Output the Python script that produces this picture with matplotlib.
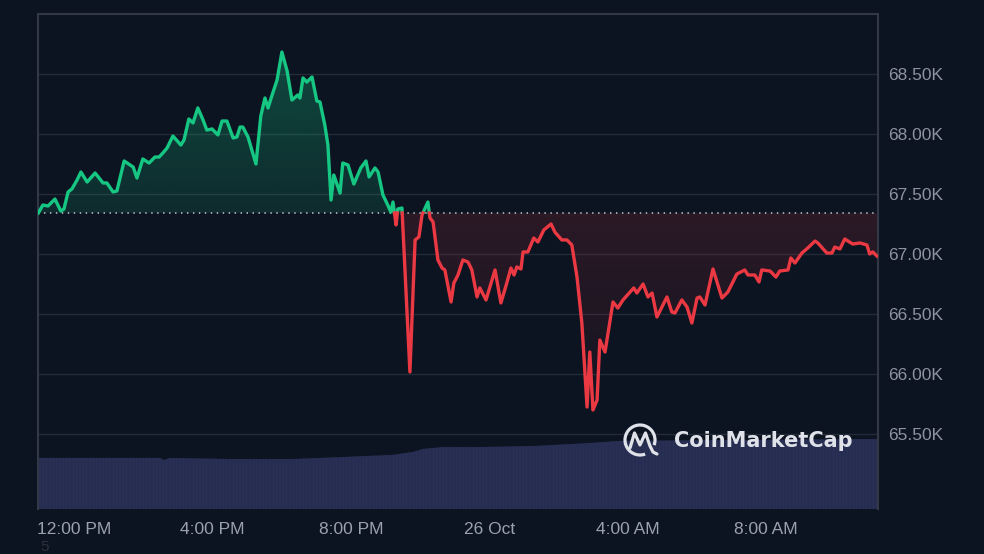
import numpy as np
import matplotlib.pyplot as plt
from matplotlib.patches import Arc
from matplotlib.path import Path
from matplotlib.colors import to_rgb

# hours after 12:00 PM (25 Oct) and price in USD
hours = [-1.03, -0.90, -0.75, -0.55, -0.38, -0.29, -0.17, -0.06, 0.09, 0.20,
         0.38, 0.61, 0.84, 0.95, 1.13, 1.24, 1.45, 1.62, 1.71, 1.82,
         1.99, 2.17, 2.34, 2.46, 2.57, 2.69, 2.86, 3.09, 3.18, 3.32,
         3.44, 3.58, 3.73, 3.84, 3.99, 4.16, 4.28, 4.42, 4.60, 4.71,
         4.80, 4.88, 5.03, 5.26, 5.40, 5.52, 5.61, 5.69, 5.87, 6.01,
         6.16, 6.30, 6.47, 6.53, 6.62, 6.73, 6.88, 7.02, 7.11, 7.25,
         7.34, 7.43, 7.51, 7.63, 7.69, 7.77, 7.92, 8.09, 8.29, 8.44,
         8.53, 8.70, 8.79, 8.93, 9.07, 9.16, 9.22, 9.31, 9.36, 9.48,
         9.71, 9.86, 9.97, 10.06, 10.23, 10.29, 10.38, 10.52, 10.64, 10.72,
         10.90, 10.98, 11.10, 11.24, 11.39, 11.50, 11.65, 11.73, 11.91, 12.17,
         12.34, 12.51, 12.63, 12.72, 12.80, 12.92, 12.98, 13.12, 13.29, 13.41,
         13.58, 13.79, 13.90, 14.10, 14.25, 14.39, 14.54, 14.68, 14.83, 14.91,
         15.00, 15.12, 15.20, 15.35, 15.58, 15.72, 15.87, 16.18, 16.27, 16.45,
         16.59, 16.71, 16.85, 17.14, 17.28, 17.37, 17.57, 17.72, 17.86, 18.01,
         18.09, 18.24, 18.47, 18.73, 18.90, 19.16, 19.39, 19.48, 19.68, 19.80,
         19.88, 20.12, 20.29, 20.40, 20.64, 20.72, 20.84, 21.04, 21.21, 21.42,
         21.50, 21.76, 21.91, 21.99, 22.14, 22.28, 22.51, 22.72, 22.92, 23.00,
         23.09, 23.21]
price = [67342, 67408, 67400, 67458, 67358, 67375, 67517, 67542, 67617, 67683,
         67600, 67675, 67592, 67592, 67517, 67525, 67775, 67742, 67725, 67633,
         67792, 67758, 67808, 67808, 67842, 67883, 67983, 67908, 67950, 68125,
         68092, 68217, 68117, 68033, 68042, 67992, 68108, 68108, 67967, 67975,
         68058, 68058, 67975, 67750, 68150, 68300, 68217, 68292, 68450, 68683,
         68525, 68283, 68325, 68300, 68467, 68433, 68475, 68275, 68267, 68075,
         67908, 67450, 67658, 67558, 67508, 67758, 67742, 67583, 67717, 67775,
         67642, 67717, 67683, 67492, 67408, 67350, 67433, 67242, 67375, 67383,
         66017, 67117, 67142, 67325, 67433, 67300, 67267, 66950, 66883, 66867,
         66600, 66758, 66825, 66950, 66933, 66867, 66642, 66717, 66617, 66867,
         66592, 66758, 66883, 66825, 66892, 66875, 67017, 67017, 67133, 67100,
         67200, 67250, 67183, 67117, 67117, 67075, 66808, 66425, 65725, 66183,
         65700, 65783, 66283, 66183, 66600, 66550, 66617, 66717, 66675, 66750,
         66642, 66675, 66475, 66642, 66517, 66508, 66617, 66558, 66425, 66633,
         66642, 66575, 66875, 66633, 66683, 66833, 66867, 66825, 66825, 66767,
         66867, 66858, 66808, 66858, 66867, 66967, 66925, 67008, 67050, 67108,
         67092, 67008, 67008, 67058, 67042, 67125, 67083, 67092, 67075, 67000,
         67017, 66983]
open_price = 67342

# 24h volume (billions USD)
vol_hours = [-1.04, 2.49, 2.60, 2.77, 4.45, 6.39, 7.75, 9.19, 9.80, 10.09,
             10.66, 11.73, 13.32, 14.91, 15.78, 23.24]
volume_b = [29.1, 29.1, 27.9, 29.1, 28.5, 28.5, 29.6, 30.8, 32.5, 34.2,
            35.3, 35.3, 35.9, 37.6, 38.8, 39.9]

tick_hours = [0, 4, 8, 12, 16, 20]
tick_labels = ["12:00 PM", "4:00 PM", "8:00 PM", "26 Oct", "4:00 AM", "8:00 AM"]
price_ticks = [65500, 66000, 66500, 67000, 67500, 68000, 68500]

BG = "#0d1421"
GREEN = "#16c784"
RED = "#ea3943"
plt.rcParams["font.family"] = ["Liberation Sans", "DejaVu Sans"]

fig = plt.figure(figsize=(9.84, 5.54), dpi=100, facecolor=BG)
rect = [38 / 984, 1 - 509 / 554, 840 / 984, 495 / 554]
xlim = (-1.04, 23.24)
ylim = (64875, 69000)

# volume behind the price chart
axv = fig.add_axes(rect)
axv.fill_between(vol_hours, volume_b, 0, facecolor="#293055", lw=0,
                 hatch="|||||", edgecolor="#262c4f")
axv.set_xlim(*xlim)
axv.set_ylim(0, 282)
axv.axis("off")

ax = fig.add_axes(rect)
ax.patch.set_alpha(0)

# split the line where it crosses the open price
t = np.array(hours)
p = np.array(price, dtype=float)
tt, pp = [t[0]], [p[0]]
for i in range(len(t) - 1):
    d0, d1 = p[i] - open_price, p[i + 1] - open_price
    if d0 * d1 < 0:
        f = d0 / (d0 - d1)
        tt.append(t[i] + f * (t[i + 1] - t[i]))
        pp.append(open_price)
    tt.append(t[i + 1])
    pp.append(p[i + 1])
tt, pp = np.array(tt), np.array(pp)
up = pp >= open_price
dn = pp <= open_price


def gradient_fill(mask, color, a_base, a_far, far):
    poly = ax.fill_between(tt, pp, open_price, where=mask, interpolate=True,
                           facecolor="none", lw=0)
    path = Path.make_compound_path(*poly.get_paths())
    n = 256
    img = np.zeros((n, 1, 4))
    img[..., :3] = to_rgb(color)
    lo, hi = sorted([far, open_price])
    if far > open_price:
        img[:, 0, 3] = np.linspace(a_base, a_far, n)
    else:
        img[:, 0, 3] = np.linspace(a_far, a_base, n)
    im = ax.imshow(img, extent=[xlim[0], xlim[1], lo, hi], origin="lower",
                   aspect="auto", zorder=2, interpolation="bilinear")
    im.set_clip_path(path, ax.transData)


gradient_fill(up, GREEN, 0.13, 0.30, 68700)
gradient_fill(dn, RED, 0.14, 0.03, 65700)

ax.plot(tt, np.where(up, pp, np.nan), color=GREEN, lw=2.4, zorder=4,
        solid_joinstyle="round")
ax.plot(tt, np.where(dn, pp, np.nan), color=RED, lw=2.4, zorder=4,
        solid_joinstyle="round")
ax.axhline(open_price, color="#a9afbc", lw=1.3, ls=(0, (0.8, 2.5)), zorder=3)

ax.set_xlim(*xlim)
ax.set_ylim(*ylim)
ax.set_yticks(price_ticks)
ax.set_yticklabels([f"{v / 1000:.2f}K" for v in price_ticks])
ax.set_xticks(tick_hours)
ax.set_xticklabels(tick_labels)
ax.yaxis.tick_right()
ax.grid(axis="y", color="#252a38", lw=1)
ax.set_axisbelow(True)
ax.tick_params(axis="y", length=0, pad=7, labelsize=12.5, labelcolor="#8d93a1")
ax.tick_params(axis="x", length=0, pad=9, labelsize=12.5, labelcolor="#9ba1ae")
for side in ["left", "top", "right"]:
    ax.spines[side].set_color("#323845")
    ax.spines[side].set_linewidth(1.5)
ax.spines["bottom"].set_visible(False)

# CoinMarketCap watermark
fig.text(674 / 984, 1 - 441 / 554, "CoinMarketCap", ha="left", va="center",
         fontsize=15, fontweight="bold", family="DejaVu Sans", color="#dfe2e9")
axl = fig.add_axes([620 / 984, 1 - 462 / 554, 45 / 984, 42 / 554])
axl.set_xlim(620, 665)
axl.set_ylim(92, 134)
axl.axis("off")
axl.add_patch(Arc((640, 114), 30, 30, theta1=-20, theta2=290,
                  color="#dfe2e9", lw=2.3))
mx = [630, 634.5, 640, 645.5, 650, 653, 657]
my = [106, 121, 109, 121, 108, 102, 100]
axl.plot(mx, my, color="#dfe2e9", lw=2.3, solid_joinstyle="round",
         solid_capstyle="round")

fig.text(45 / 984, 1 - 547 / 554, "5", ha="center", va="center",
         fontsize=11, color="#2c3038")

fig.savefig("out.png", dpi=100, facecolor=BG)
